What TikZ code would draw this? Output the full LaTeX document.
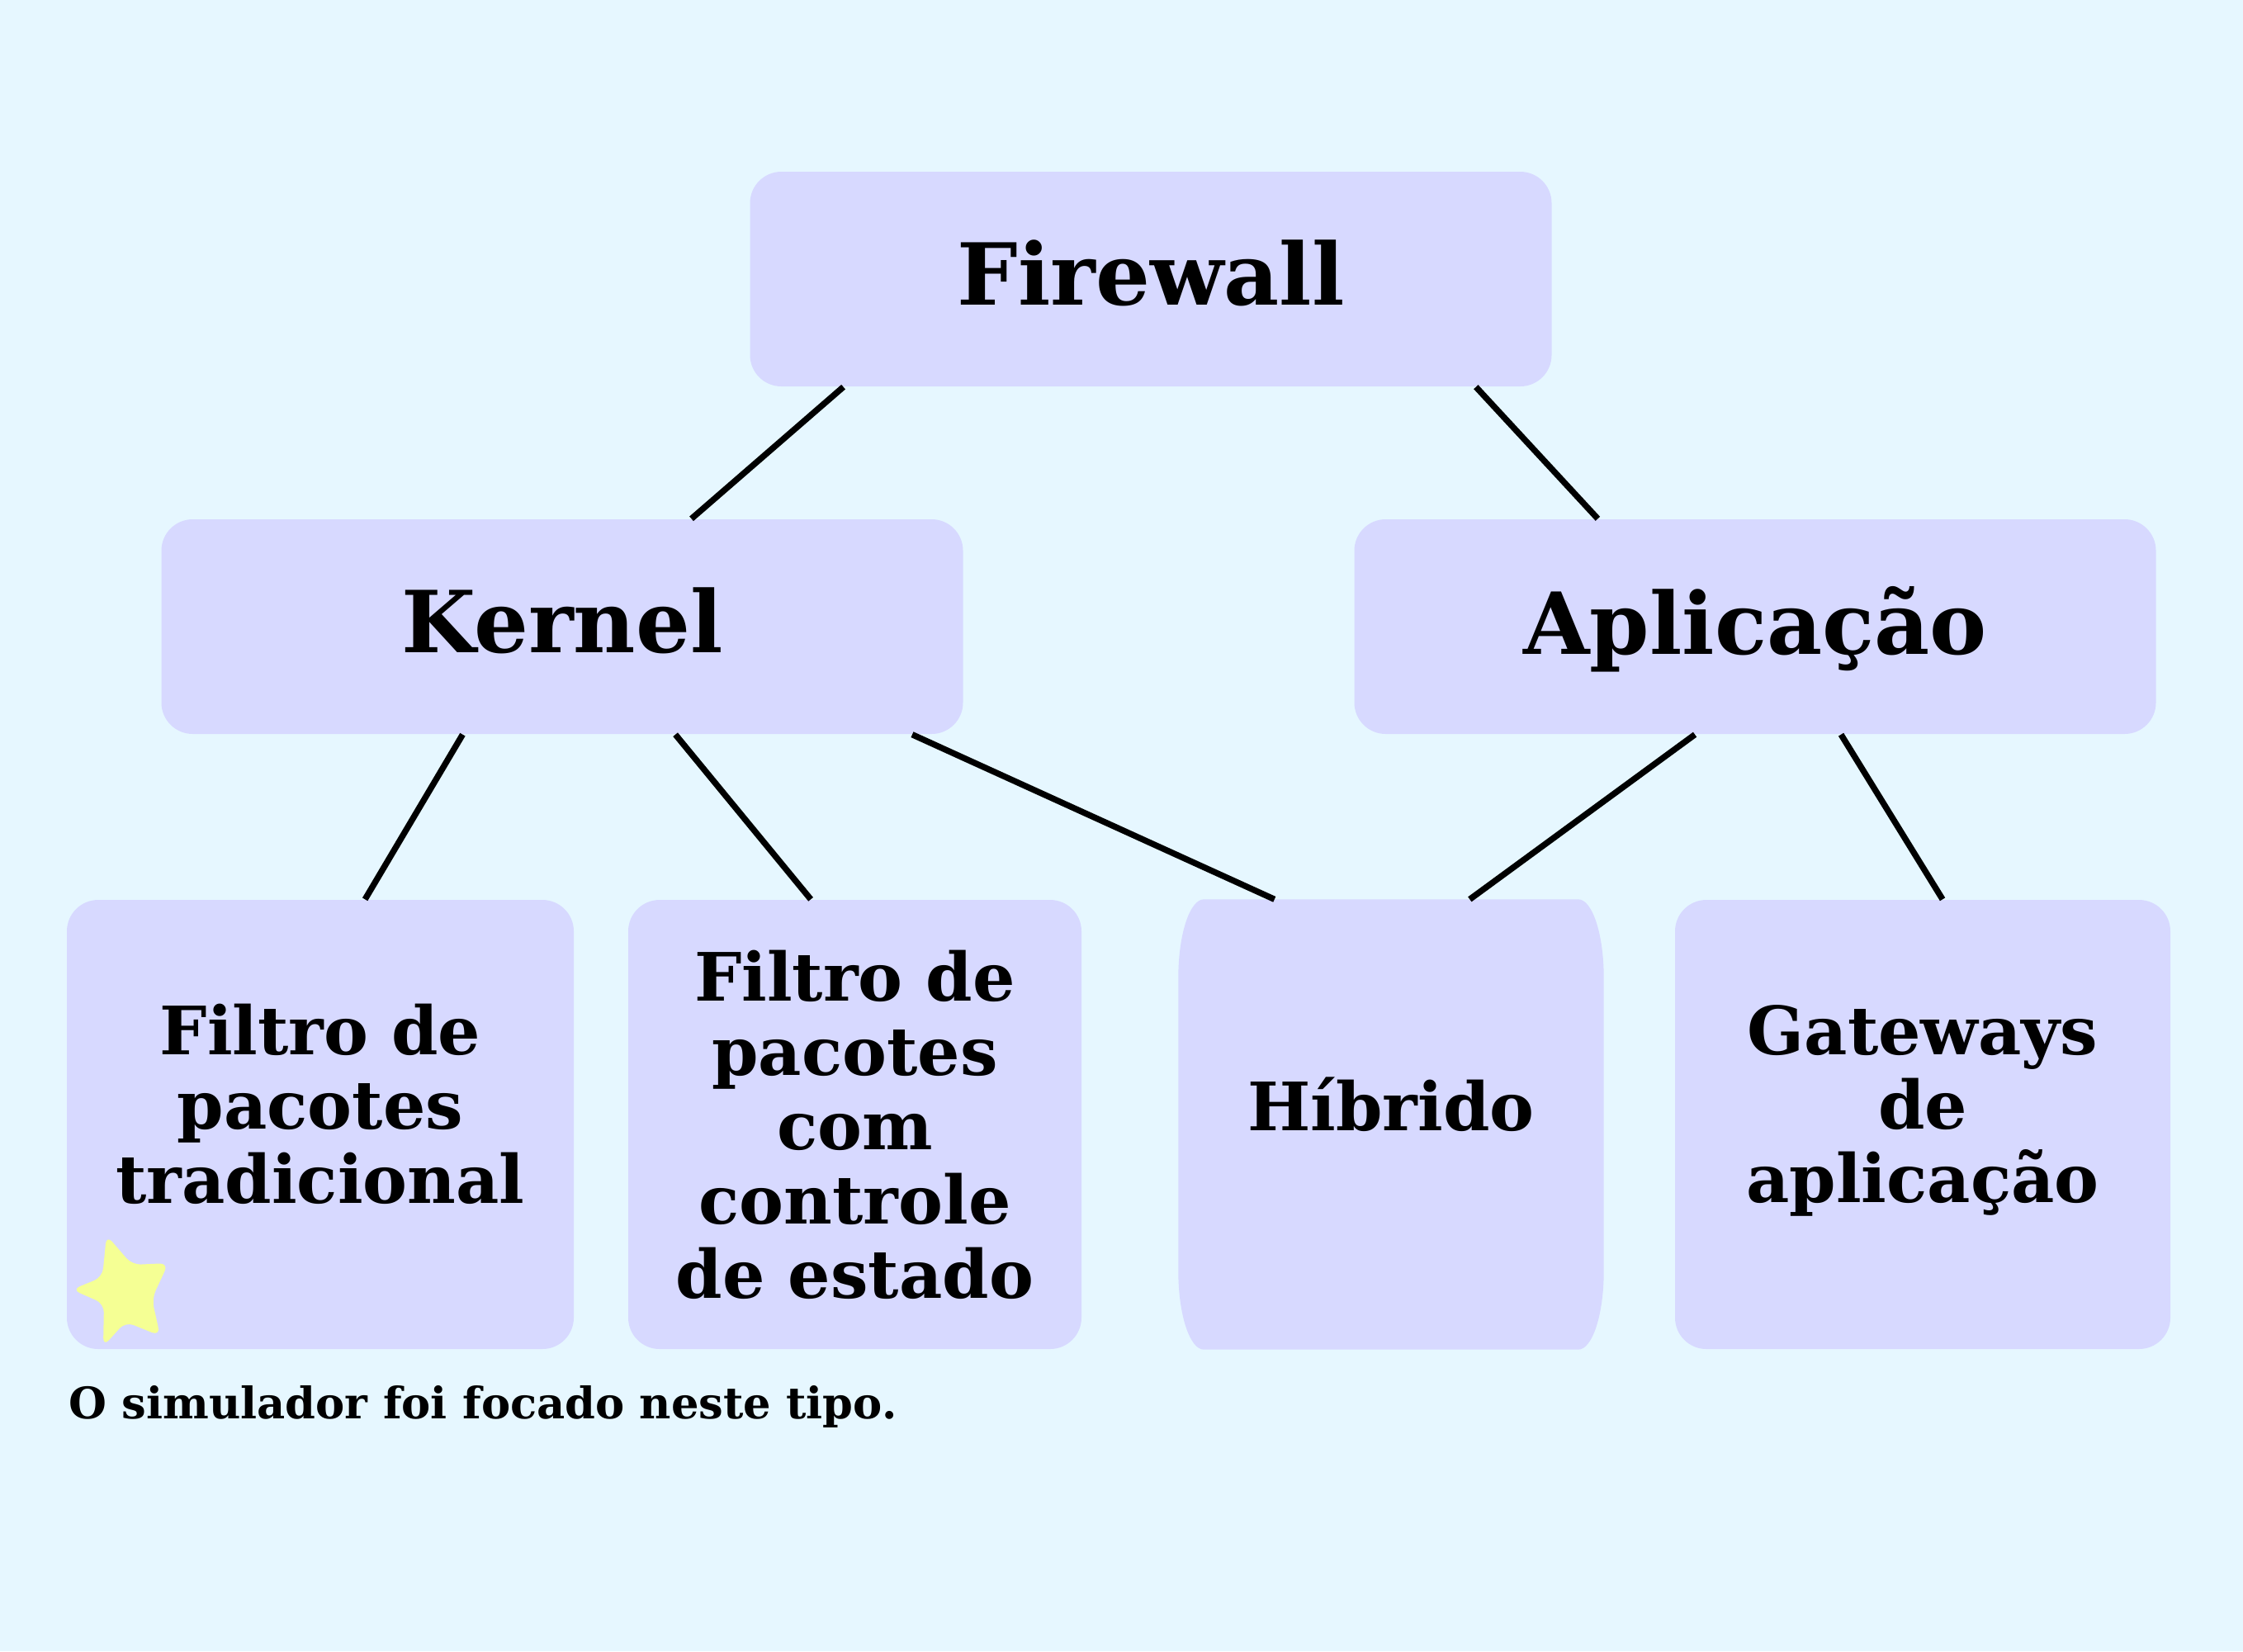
\documentclass[tikz,border=0pt]{standalone}
\usepackage{fontspec}
\setmainfont{DejaVu Serif}
\usepackage{tikz}
\usetikzlibrary{calc,backgrounds}
\definecolor{bgcyan}{HTML}{E6F7FF}
\definecolor{boxblue}{HTML}{D7D9FF}
\definecolor{staryellow}{HTML}{F5FF94}
\tikzstyle{box} = [fill=boxblue, rounded corners=0.38cm, text centered, align=center, inner sep=0pt, font=\bfseries]
\tikzstyle{bigbox} = [box, minimum width=9.71cm, minimum height=2.6cm, text depth=0.45em, font=\bfseries\fontsize{29.5}{34}\selectfont]
\tikzstyle{leaf} = [box, minimum height=5.44cm, font=\bfseries\fontsize{23}{25.6}\selectfont]
\tikzstyle{raised} = [text depth=0.5cm]
\tikzset{
  link/.style ={draw, line width=2.1pt}
}

\begin{document}
\begin{tikzpicture}
  \node[bigbox] (fw) at (13.94,-3.38) {Firewall};
  \node[bigbox] (kern) at (6.81,-7.59) {Kernel};
  \node[bigbox] (apl) at (21.26,-7.59) {Aplicação};

  \node[leaf,raised,minimum width=6.14cm] (trad) at (3.88,-13.62) {Filtro de\\pacotes\\tradicional};
  \node[leaf,minimum width=5.49cm] (ctrl) at (10.355,-13.62) {Filtro de\\pacotes\\com\\controle\\de estado};
  \node[leaf,raised,fill=none,minimum width=5.14cm] (hib) at (16.85,-13.62) {Híbrido};
  \node[leaf,raised,minimum width=6.0cm] (gw) at (23.29,-13.62) {Gateways\\de\\aplicação};

  \node[anchor=west,inner sep=0pt,font=\bfseries\fontsize{15}{18}\selectfont] (note) at (0.83,-17.04) {O simulador foi focado neste tipo.};

  % star on the traditional filter
  \fill[staryellow,rounded corners=3pt] (1.29,-14.96) -- (1.60,-15.32) -- (2.04,-15.30) -- (1.84,-15.73)
    -- (1.94,-16.18) -- (1.52,-16.01) -- (1.25,-16.31) -- (1.26,-15.79) -- (0.87,-15.62) -- (1.24,-15.47) -- cycle;

  \begin{pgfonlayer}{background}
    \fill[bgcyan] (0,0) rectangle (27.17,-20);
    % hybrid box has taller corners
    \fill[boxblue] ([xshift=0.31cm]hib.north west) -- ([xshift=-0.31cm]hib.north east)
      arc[start angle=90,end angle=0,x radius=0.31cm,y radius=0.95cm] -- ([yshift=0.95cm]hib.south east)
      arc[start angle=0,end angle=-90,x radius=0.31cm,y radius=0.95cm] -- ([xshift=0.31cm]hib.south west)
      arc[start angle=270,end angle=180,x radius=0.31cm,y radius=0.95cm] -- ([yshift=-0.95cm]hib.north west)
      arc[start angle=180,end angle=90,x radius=0.31cm,y radius=0.95cm] -- cycle;
  \end{pgfonlayer}

  \begin{scope}[every path/.style=link]
    \path ($(fw.south west)!0.117!(fw.south east)$) -- ($(kern.north west)!0.661!(kern.north east)$);
    \path ($(fw.south west)!0.905!(fw.south east)$) -- ($(apl.north west)!0.304!(apl.north east)$);
    \path ($(kern.south west)!0.376!(kern.south east)$) -- ($(trad.north west)!0.588!(trad.north east)$);
    \path ($(kern.south west)!0.641!(kern.south east)$) -- ($(ctrl.north west)!0.403!(ctrl.north east)$);
    \path ($(kern.south west)!0.936!(kern.south east)$) -- ($(hib.north west)!0.226!(hib.north east)$);
    \path ($(apl.south west)!0.425!(apl.south east)$) -- ($(hib.north west)!0.685!(hib.north east)$);
    \path ($(apl.south west)!0.607!(apl.south east)$) -- ($(gw.north west)!0.54!(gw.north east)$);
  \end{scope}

\end{tikzpicture}
\end{document}
